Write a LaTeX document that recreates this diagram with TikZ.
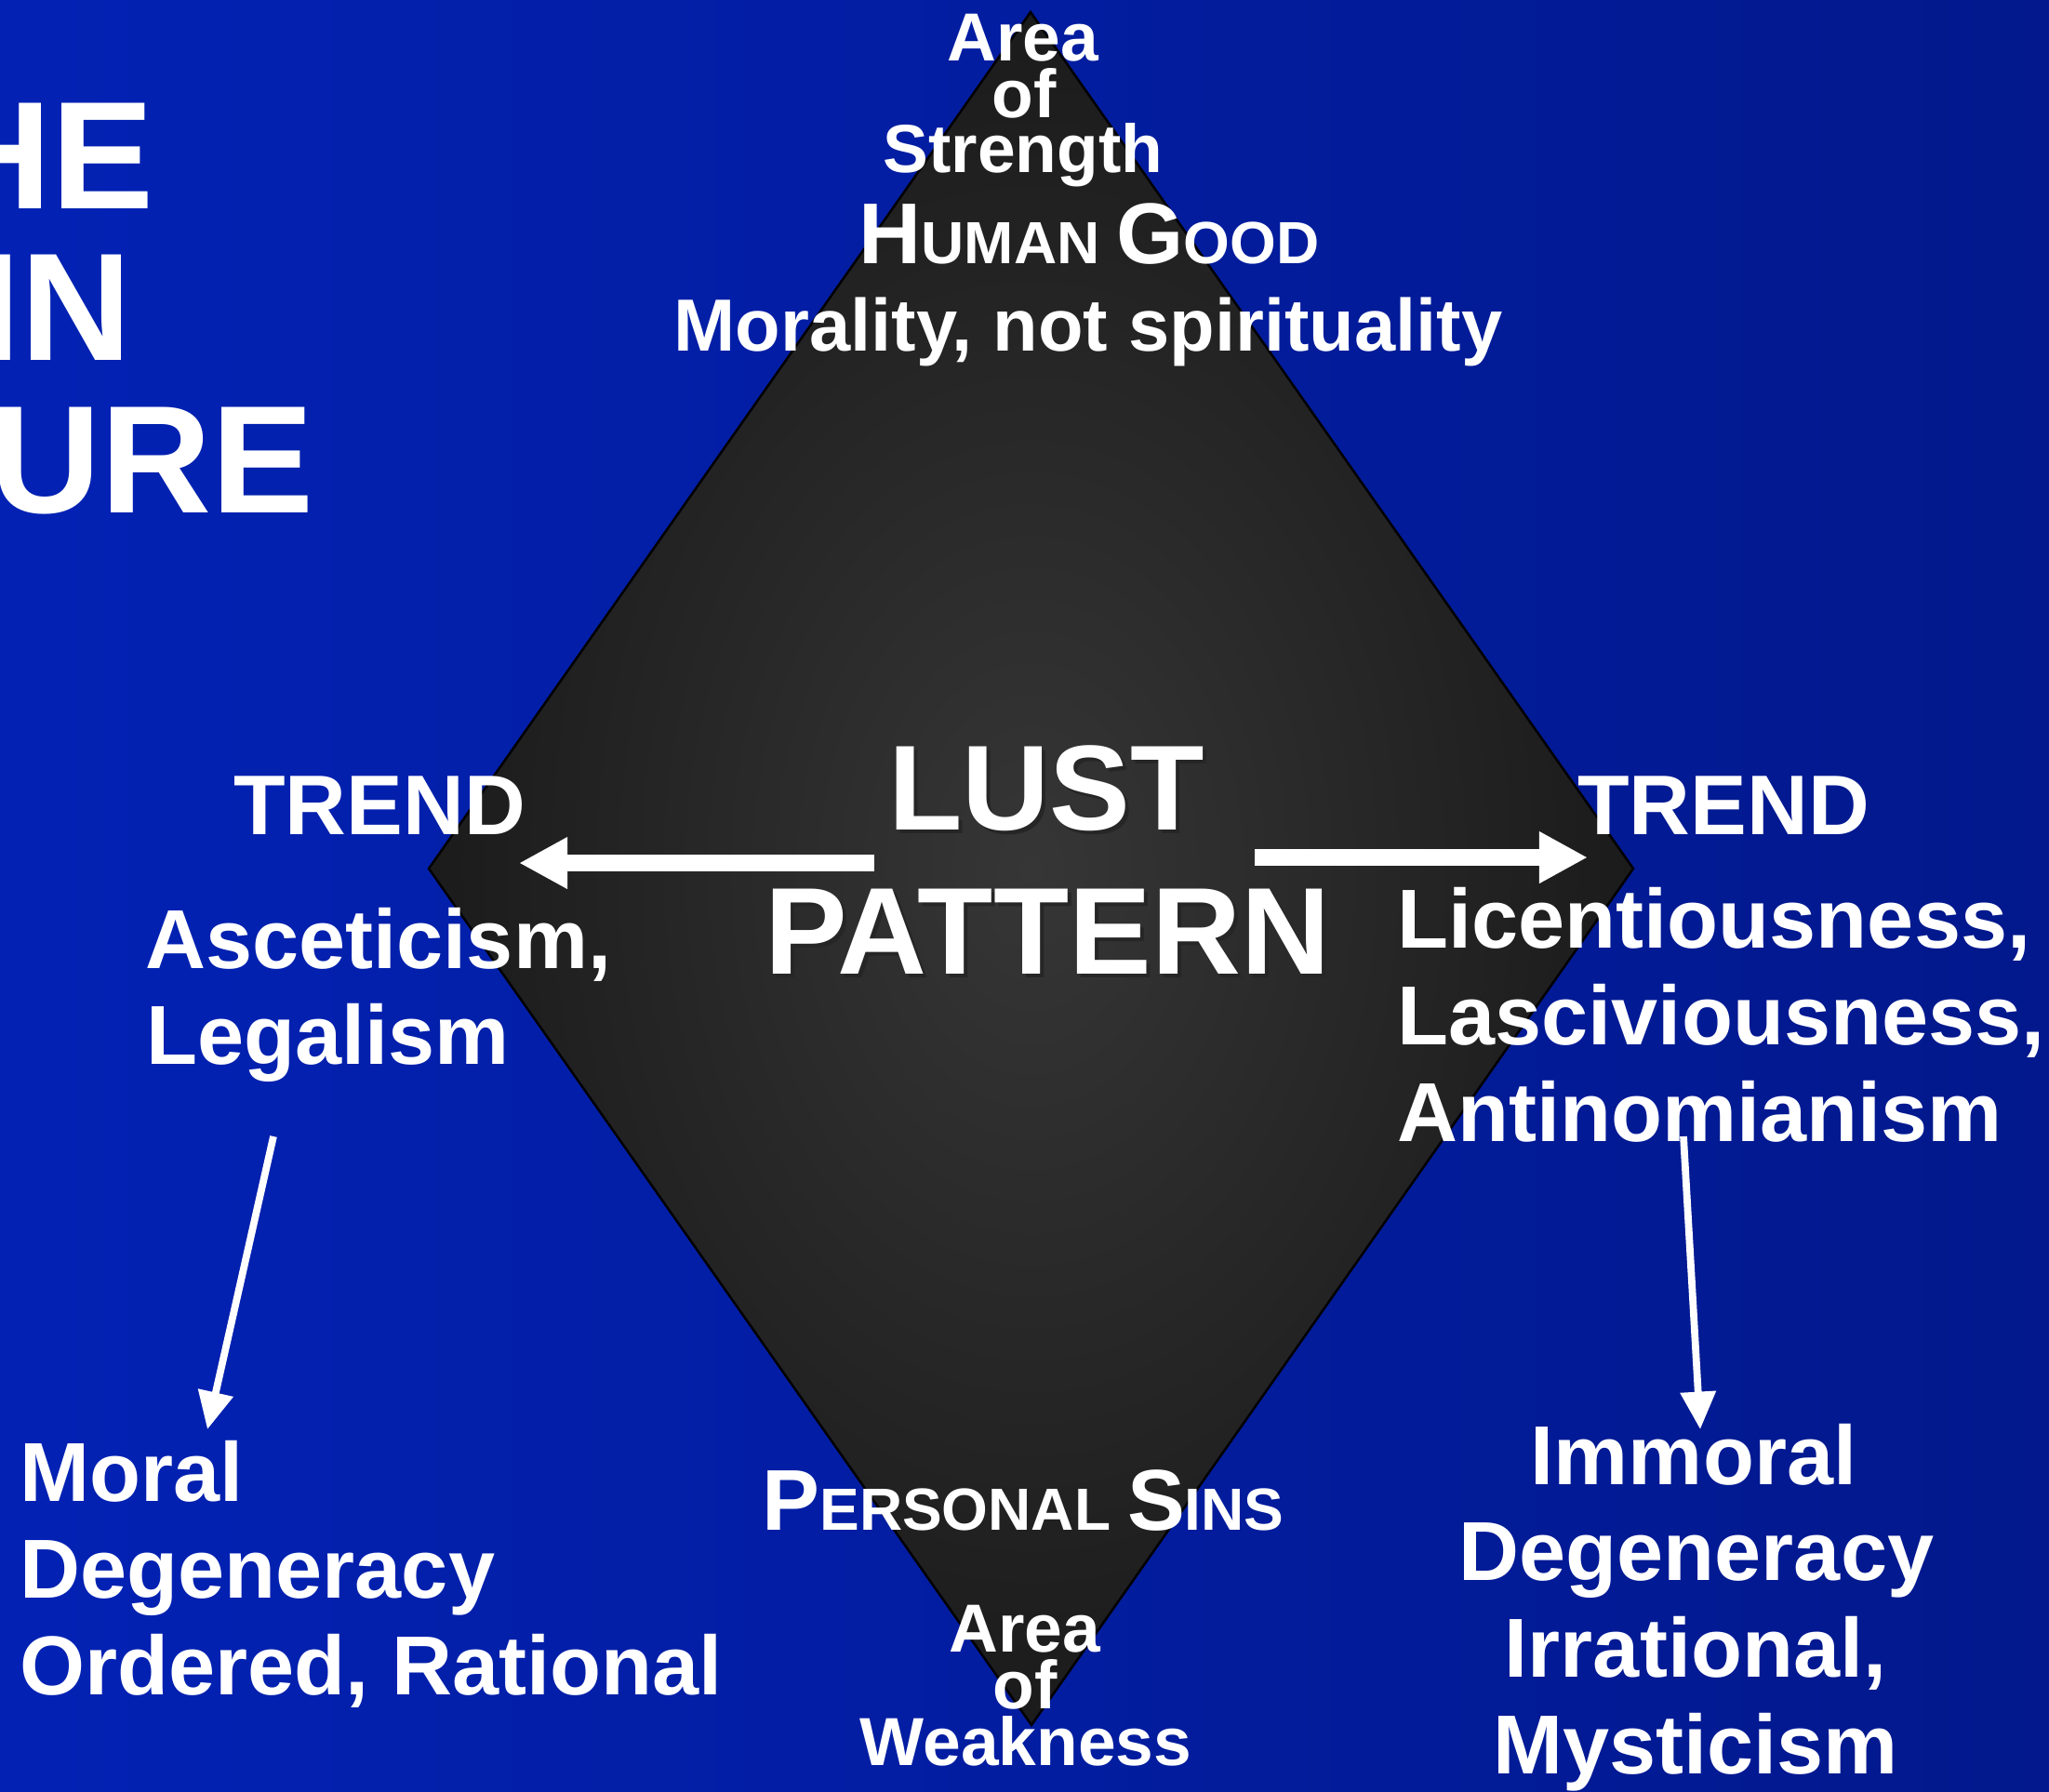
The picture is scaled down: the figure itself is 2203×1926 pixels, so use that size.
\documentclass[tikz,border=0pt]{standalone}
\usepackage{fontspec}
\setmainfont{Liberation Sans}
\usetikzlibrary{arrows.meta}
\definecolor{bgL}{RGB}{3,34,180}
\definecolor{bgR}{RGB}{2,24,140}
\definecolor{dmIn}{RGB}{54,54,54}
\definecolor{dmOut}{RGB}{27,27,27}
\newcommand\myfs[1]{\fontsize{#1}{#1}\selectfont}
\tikzset{
  txt/.style={text=white, inner sep=0pt, font=\bfseries},
  ttl/.style={txt, font=\bfseries\myfs{46.9pt}},
  area/.style={txt, font=\bfseries\myfs{20.8pt}},
  morl/.style={txt, font=\bfseries\myfs{22.6pt}},
  big/.style={txt, font=\bfseries\myfs{37pt}},
  bigp/.style={txt, font=\bfseries\myfs{37.8pt}},
  trnd/.style={txt, font=\bfseries\myfs{25.9pt}},
  side/.style={txt, font=\bfseries\myfs{25.6pt}},
  scaps/.style={txt, font=\bfseries\myfs{26.4pt}},
  bigarrow/.style={draw=white, line width=5.1pt, -{Triangle[length=14.8pt, width=14.8pt]}},
  thinarrow/.style={draw=white, line width=2.2pt, -{Triangle[length=11.5pt, width=10.5pt]}},
}
\newcommand\smc{\myfs{18.2pt}}
\newcommand\bgc{\myfs{26.4pt}}
\begin{document}
\begin{tikzpicture}[x=0.01cm, y=-0.01cm]
\useasboundingbox (0,0) rectangle (2203,1926);
\shade[left color=bgL, right color=bgR] (0,0) rectangle (2203,1926);
% diamond
\shadedraw[inner color=dmIn, outer color=dmOut, draw=black, line width=0.7pt]
  (1108,13) -- (1756,934) -- (1109,1855) -- (461,934) -- cycle;
% title fragments
\node[ttl, anchor=base east] (tHE) at (166,224) {HE};
\node[ttl, anchor=base east] (tIN) at (142,387) {IN};
\node[ttl, anchor=base east] (tURE) at (338,551) {URE};
% top
\node[area, anchor=base] (aTop1) at (1100,65) {Area};
\node[area, anchor=base] (aTop2) at (1101,126) {of};
\node[area, anchor=base] (aTop3) at (1100,185) {Strength};
\node[scaps, anchor=base] (hgood) at (1171,283) {H\smc UMAN \bgc G\smc OOD};
\node[morl, anchor=base] (moral0) at (1170,377) {Morality, not spirituality};
% center
\node[big, text=black!85, anchor=base] (lustS) at (1129,896) {LUST};
\node[big, anchor=base] (lust) at (1125,892) {LUST};
\node[bigp, text=black!85, anchor=base] (pattS) at (1130,1051) {PATTERN};
\node[bigp, anchor=base] (patt) at (1126,1047) {PATTERN};
% trends
\node[trnd, anchor=base] (trL) at (408,897) {TREND};
\node[trnd, anchor=base] (trR) at (1853,897) {TREND};
\node[side, anchor=base west] (asc) at (156,1041) {Asceticism,};
\node[side, anchor=base west] (leg) at (157,1144) {Legalism};
\node[side, anchor=base west] (lic) at (1502,1019) {Licentiousness,};
\node[side, anchor=base west] (las) at (1502,1123) {Lasciviousness,};
\node[side, anchor=base west] (ant) at (1502,1227) {Antinomianism};
% arrows
\coordinate (laS) at (940,928);
\coordinate (laE) at (558,928);
\coordinate (raS) at (1349,922);
\coordinate (raE) at (1707,922);
\draw[bigarrow] (laS) -- (laE);
\draw[bigarrow] (raS) -- (raE);
\coordinate (ldS) at (294,1222);
\coordinate (ldE) at (223,1537);
\coordinate (rdS) at (1810,1222);
\coordinate (rdE) at (1828,1537);
\draw[thinarrow] (ldS) -- (ldE);
\draw[thinarrow] (rdS) -- (rdE);
% bottom left
\node[side, anchor=base west] (bl1) at (21,1614) {Moral};
\node[side, anchor=base west] (bl2) at (21,1718) {Degeneracy};
\node[side, anchor=base west] (bl3) at (21,1822) {Ordered, Rational};
% bottom right
\node[side, anchor=base] (br1) at (1821,1596) {Immoral};
\node[side, anchor=base] (br2) at (1824,1699) {Degeneracy};
\node[side, anchor=base] (br3) at (1823,1803) {Irrational,};
\node[side, anchor=base] (br4) at (1823,1907) {Mysticism};
% bottom center
\node[scaps, anchor=base] (psins) at (1100,1645) {P\smc ERSONAL \bgc S\smc INS};
\node[area, anchor=base] (aBot1) at (1102,1776) {Area};
\node[area, anchor=base] (aBot2) at (1102,1837) {of};
\node[area, anchor=base] (aBot3) at (1103,1898) {Weakness};
\end{tikzpicture}
\end{document}
